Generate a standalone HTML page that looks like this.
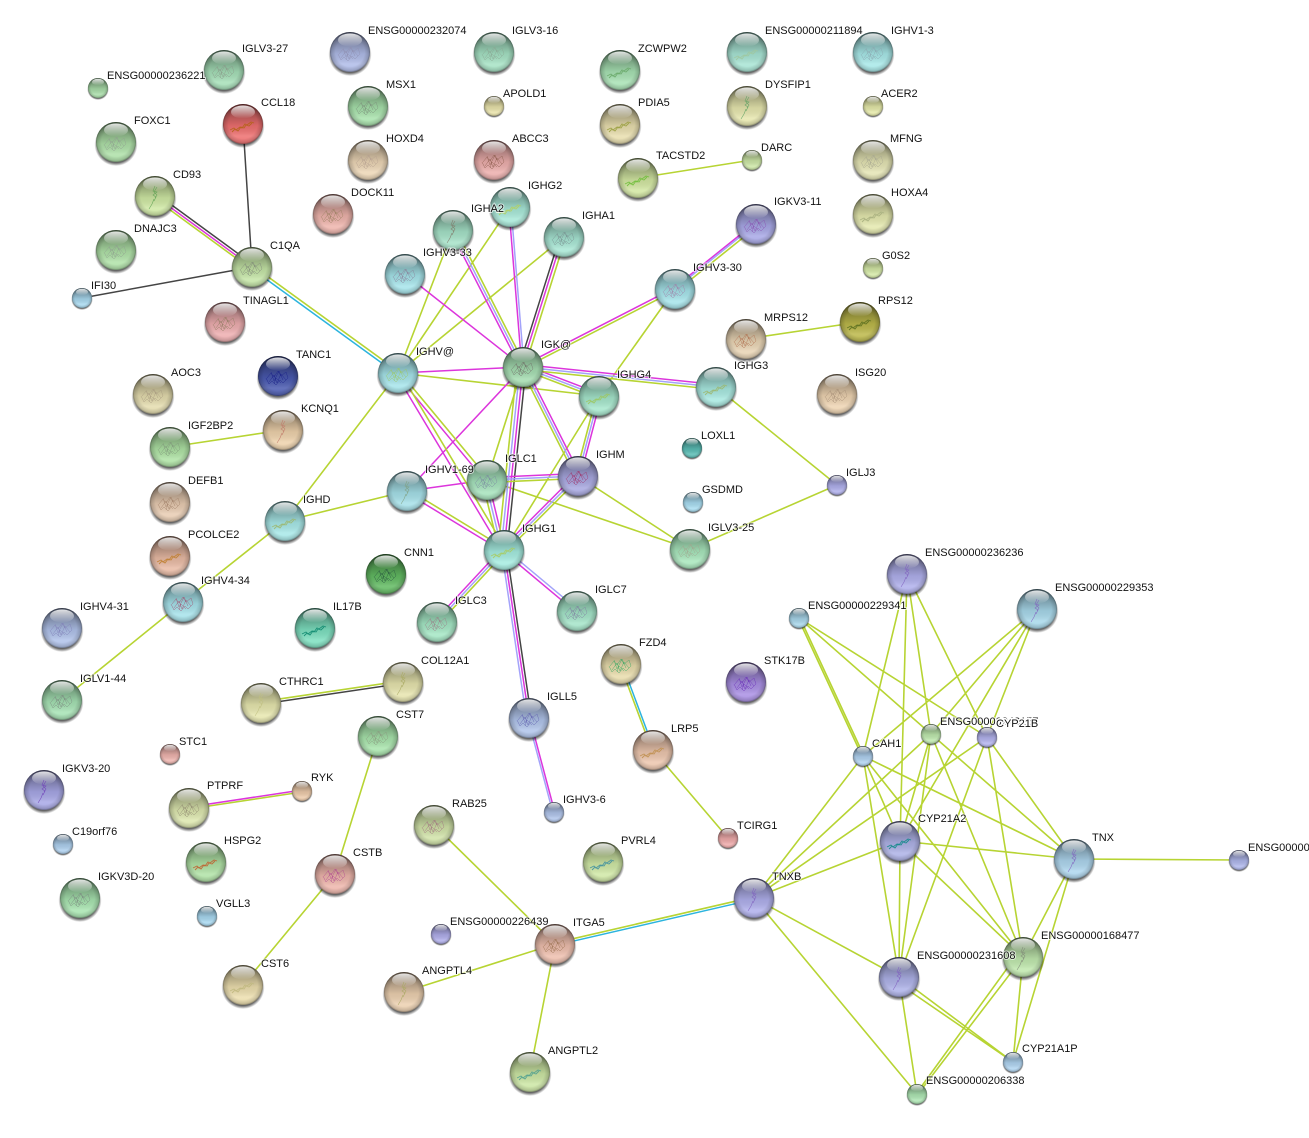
<!DOCTYPE html>
<html lang="en"><head><meta charset="utf-8"><title>Network</title>
<style>
html,body{margin:0;padding:0;background:#fff;width:1309px;height:1138px;overflow:hidden}
svg{display:block}
text{font:11px "Liberation Sans",Arial,sans-serif;fill:#111;stroke:rgba(255,255,255,.65);stroke-width:2px;paint-order:stroke}
text.t{stroke:#fff;stroke-width:3px}
path{fill:none}
.g{stroke:#b7d433;stroke-width:1.6}.m{stroke:#dc35dc;stroke-width:1.5}.l{stroke:#a3a3fa;stroke-width:1.5}.k{stroke:#444;stroke-width:1.5}.c{stroke:#2cb4de;stroke-width:1.5}
</style></head><body>
<svg width="1309" height="1138" viewBox="0 0 1309 1138" xmlns="http://www.w3.org/2000/svg">
<defs>
<radialGradient id="sh" cx=".5" cy=".5" r=".5"><stop offset=".85" stop-color="#000" stop-opacity=".6"/><stop offset="1" stop-color="#000" stop-opacity="0"/></radialGradient>
<linearGradient id="ov1" x1="0" y1="0" x2="0" y2="1"><stop offset="0" stop-color="#000" stop-opacity=".55"/><stop offset=".22" stop-color="#000" stop-opacity=".32"/><stop offset=".55" stop-color="#000" stop-opacity=".08"/><stop offset=".8" stop-color="#fff" stop-opacity=".15"/><stop offset="1" stop-color="#fff" stop-opacity=".05"/></linearGradient>
<radialGradient id="ov" cx=".5" cy=".5" r=".5"><stop offset=".72" stop-color="#000" stop-opacity="0"/><stop offset=".93" stop-color="#000" stop-opacity=".16"/><stop offset="1" stop-color="#000" stop-opacity=".42"/></radialGradient>
<linearGradient id="hi" x1="0" y1="0" x2="0" y2="1"><stop offset="0" stop-color="#fff" stop-opacity=".85"/><stop offset="1" stop-color="#fff" stop-opacity="0"/></linearGradient>
<g id="b"><circle cx="0" cy="2.5" r="21.5" fill="url(#sh)"/><circle r="20"/><circle r="20" fill="url(#ov1)"/><circle r="20" fill="url(#ov)"/><ellipse cy="-12" rx="12" ry="6.5" fill="url(#hi)"/></g>
<g id="s"><use href="#b" transform="scale(.5)"/></g>
<g id="a"><use href="#b"/><path stroke="currentColor" stroke-width=".5" opacity=".8" d="M-11 2l4-5 3 4 4-6 3 5 5-4 2 6-5 5-3-3-4 5-4-4-3 3-3-6M-7 -4l3 9 5-10 4 9M-4 8l2-6 5 5M-9 6l5-7 3 8 4-9 5 6"/></g>
<g id="c"><use href="#b"/><path stroke="currentColor" stroke-width=".6" opacity=".85" d="M0 -10l-2 5 4 1-4 3 3 2-2 4M2 -9l-3 5 3 3-2 3M-1 3l-2 5-3 5"/></g>
<g id="e"><use href="#b"/><path stroke="currentColor" stroke-width=".9" opacity=".9" d="M-13 6l4-2 2 2 4-3 2 1 3-4 2 1 4-3 3 1M-11 8l3-3 3 2 3-4 3 1 2-3 3 1 3-3"/></g>
</defs>
<rect width="1309" height="1138" fill="#fff"/>

<!-- single green edges -->
<path class="g" d="M638 178L752 160M170 447L283 430M746 339L860 322M716 387L837 485M837 485L690 549M285 521L407 491M285 521L398 373M285 521L183 602M183 602L62 700M378 736L335 874M335 874L243 985M653 750L728 838M434 825L555 944M555 944L404 992M555 944L530 1072M1074 859L1239 860
M453 230L398 373M510 207L398 373M564 237L398 373M675 289L599 396M398 373L599 396M599 396L504 550M578 476L690 549M487 480L690 549
M907 574L863 756M907 574L900 841M907 574L931 734M907 574L987 737M1037 609L863 756M1037 609L931 734M1037 609L900 841M1037 609L987 737M799 618L931 734M799 618L987 737M798 618L862 756M800 618L864 756
M863 756L754 898M863 756L900 841M863 756L899 977M863 756L1023 957M863 756L1074 859M931 734L754 898M931 734L900 841M931 734L899 977M931 734L1023 957M931 734L1074 859M987 737L754 898M987 737L899 977M987 737L1023 957M987 737L1074 859M900 841L754 898M900 841L1074 859M900 841L899 977M900 841L1023 957M1074 859L1023 957M1074 859L1013 1062M754 898L899 977M754 898L917 1094M1023 957L1013 1062M1023 957L918 1094M1019 952L916 1094M899 977L1013 1062M895 981L1013 1062M899 977L917 1094
M487 480L523 367"/>

<!-- black singles -->
<path class="k" d="M243 124L252 267M82 298L252 267"/>
<path class="m" d="M405 274L523 367M398 373L523 367M523 367L407 491M407 491L487 480"/>

<!-- multi edges -->
<path class="k" d="M156.5 193.9L253.5 264.9M403 683.3L261 704.3M531.5 718L506.5 550M559.5 238.2L518.5 368.2M526 367L507 550"/>
<path class="m" d="M155 196L252 267M302 790L189 807M529 718L504 550M555 813L530 719M756 222L675 287M674.4 287.8L522.4 365.8M450.7 231.1L520.7 368.1M508.8 207L521.8 367M562.5 237.5L521.5 367.5M523 364.5L716 384.5M523.9 364.7L599.9 393.7M523 367L504 550M525.2 365.9L580.2 474.9M396 374.2L502 551.2M396.5 374.2L485.5 481.2M406 492.5L503 551.5M487 477.5L578 473.5M488 480L505 550M576.2 474.2L502.2 548.2M601.5 396L580.5 476M502.2 548.3L435.2 620.3M503 551.2L576 612.2"/>
<path class="l" d="M756 224L675 289M453 230L523 367M511 207L524 367M523 367L716 387M523 367L599 396M520 367L501 550M523 367L578 476M487 480L578 476M485 480L502 550M578 476L504 550M599 396L578 476M504 550L437 622M505 548.8L578 609.8M526.5 718L501.5 550M552.8 812.2L527.8 718.2"/>
<path class="g" d="M757.6 226L676.6 291M675.6 290.2L523.6 368.2M455.3 228.9L525.3 365.9M566 236.5L525 366.5M523 369.5L716 389.5M522.1 369.3L598.1 398.3M517 367L498 550M520.8 368.1L575.8 477.1M399.7 371.8L505.7 548.8M399.5 371.8L488.5 478.8M408 489.5L505 548.5M487 482.5L578 478.5M482 480L499 550M579.8 477.8L505.8 551.8M596.5 396L575.5 476M505.8 551.7L438.8 623.7M154 198.1L251 269.1M398.9 371.8L252.9 265.8M403 680.7L261 701.7M302 792L189 809M620 664.4L652 750.4M555.3 942.8L754.3 896.8"/>
<path class="c" d="M397.1 374.2L251.1 268.2M622 663.6L654 749.6M555.7 945.2L754.7 899.2"/>

<!-- nodes -->
<g>
<use href="#s" x="98" y="88" fill="#a8dca8"/>
<use href="#a" x="224" y="70" fill="#a6dfb8" color="#8a9a8a"/>
<use href="#a" x="350" y="52" fill="#b0bce8" color="#8f8fb0"/>
<use href="#a" x="494" y="52" fill="#a6e2c4" color="#8aa894"/>
<use href="#e" x="620" y="70" fill="#a8e2b4" color="#6aaa6a"/>
<use href="#e" x="747" y="52" fill="#a8e4d4" color="#a0c8a0"/>
<use href="#a" x="873" y="52" fill="#a8e8e8" color="#8aa8b0"/>
<use href="#a" x="116" y="142" fill="#aee0a8" color="#90a090"/>
<use href="#e" x="243" y="124" fill="#ee7070" color="#b5631a"/>
<use href="#a" x="368" y="106" fill="#a8e2ac" color="#7a8f7a"/>
<use href="#s" x="494" y="106" fill="#e8e2aa"/>
<use href="#e" x="620" y="124" fill="#e8deae" color="#9aa040"/>
<use href="#c" x="747" y="106" fill="#e6e6ae" color="#5ba060"/>
<use href="#s" x="873" y="106" fill="#e4e8a8"/>
<use href="#a" x="368" y="160" fill="#ecd6b6" color="#b5a090"/>
<use href="#a" x="494" y="160" fill="#ecaeac" color="#8a5a4a"/>
<use href="#e" x="638" y="178" fill="#d2e6a2" color="#6fbf3a"/>
<use href="#s" x="752" y="160" fill="#cce6a6"/>
<use href="#a" x="873" y="160" fill="#e4e4b4" color="#a8a890"/>
<use href="#c" x="155" y="196" fill="#cfe8a4" color="#5aa050"/>
<use href="#a" x="333" y="214" fill="#eeb4ac" color="#9a8060"/>
<use href="#e" x="510" y="207" fill="#a8e8d8" color="#b4d060"/>
<use href="#c" x="453" y="230" fill="#a6e2c8" color="#807868"/>
<use href="#a" x="564" y="237" fill="#a8e6d4" color="#789090"/>
<use href="#a" x="756" y="224" fill="#a8a8e6" color="#8850b0"/>
<use href="#e" x="873" y="214" fill="#e4e8ae" color="#a8b080"/>
<use href="#a" x="116" y="250" fill="#b0e2a8" color="#90a090"/>
<use href="#a" x="252" y="267" fill="#c4e4a6" color="#808878"/>
<use href="#s" x="873" y="268" fill="#d4e8a6"/>
<use href="#a" x="405" y="274" fill="#a6e4ea" color="#887f98"/>
<use href="#a" x="675" y="289" fill="#a6e4ea" color="#a080a8"/>
<use href="#s" x="82" y="298" fill="#a8d8ee"/>
<use href="#a" x="225" y="322" fill="#eeaeb0" color="#907a60"/>
<use href="#e" x="860" y="322" fill="#bcb84a" color="#5c7020"/>
<use href="#a" x="746" y="339" fill="#e8d4b4" color="#b07050"/>
<use href="#a" x="523" y="367" fill="#a4dcb0" color="#706e68"/>
<use href="#a" x="398" y="373" fill="#a6e4ea" color="#9cc860"/>
<use href="#a" x="278" y="376" fill="#4a5ab0" color="#1a2088"/>
<use href="#a" x="153" y="394" fill="#e4dcae" color="#a89a80"/>
<use href="#e" x="599" y="396" fill="#a6e6cc" color="#9cc860"/>
<use href="#e" x="716" y="387" fill="#a8e8e0" color="#9cb870"/>
<use href="#a" x="837" y="394" fill="#eed4b2" color="#a89078"/>
<use href="#c" x="283" y="430" fill="#eed2ac" color="#c07868"/>
<use href="#a" x="170" y="447" fill="#aee2a4" color="#80987a"/>
<use href="#s" x="692" y="448" fill="#5abcb4"/>
<use href="#a" x="487" y="480" fill="#a6e2bc" color="#7a8aa0"/>
<use href="#a" x="578" y="476" fill="#a8a8e0" color="#a03068"/>
<use href="#c" x="407" y="491" fill="#a6e0e8" color="#80a080"/>
<use href="#s" x="837" y="485" fill="#b0b0ec"/>
<use href="#a" x="170" y="502" fill="#e8ccb2" color="#a08068"/>
<use href="#s" x="693" y="502" fill="#a8dcf0"/>
<use href="#e" x="285" y="521" fill="#a8e8e8" color="#9cb870"/>
<use href="#e" x="504" y="550" fill="#a6ece0" color="#a8cc60"/>
<use href="#a" x="690" y="549" fill="#a8e6bc" color="#a0a890"/>
<use href="#e" x="170" y="556" fill="#e8baa4" color="#c08030"/>
<use href="#a" x="386" y="574" fill="#62ba62" color="#2a5a40"/>
<use href="#c" x="907" y="574" fill="#b0b0ec" color="#8060c0"/>
<use href="#a" x="183" y="602" fill="#a6e2ea" color="#a05070"/>
<use href="#c" x="1037" y="609" fill="#a8d8ea" color="#8060c0"/>
<use href="#s" x="799" y="618" fill="#a8d6ea"/>
<use href="#e" x="315" y="628" fill="#7ee0c0" color="#108a70"/>
<use href="#a" x="437" y="622" fill="#a4e6c4" color="#9a7f88"/>
<use href="#a" x="577" y="611" fill="#a4e4c8" color="#7f80a0"/>
<use href="#a" x="62" y="628" fill="#b0c2ea" color="#7f80b8"/>
<use href="#a" x="621" y="664" fill="#e8dcac" color="#30a860"/>
<use href="#a" x="746" y="682" fill="#aa90e4" color="#6a30b8"/>
<use href="#c" x="403" y="682" fill="#e6e4ae" color="#a8a860"/>
<use href="#c" x="261" y="703" fill="#e6e6ae" color="#c0c080"/>
<use href="#a" x="62" y="700" fill="#a6e2b4" color="#7a8a80"/>
<use href="#a" x="529" y="718" fill="#b0c4ea" color="#6060b0"/>
<use href="#e" x="653" y="750" fill="#ecc6ae" color="#c09050"/>
<use href="#a" x="378" y="736" fill="#a8e4ac" color="#8a9a80"/>
<use href="#s" x="931" y="734" fill="#bee8ae"/>
<use href="#s" x="987" y="737" fill="#b4b4ee"/>
<use href="#s" x="863" y="756" fill="#b0d2f0"/>
<use href="#s" x="170" y="754" fill="#eeb4ae"/>
<use href="#c" x="44" y="790" fill="#a8a8e6" color="#7040b8"/>
<use href="#s" x="302" y="791" fill="#eccaaa"/>
<use href="#a" x="189" y="808" fill="#dce6ae" color="#908a70"/>
<use href="#s" x="554" y="812" fill="#b0c4ea"/>
<use href="#s" x="728" y="838" fill="#eeaaaa"/>
<use href="#e" x="900" y="841" fill="#aeb2e6" color="#108a8a"/>
<use href="#a" x="434" y="825" fill="#d0e2a8" color="#a07080"/>
<use href="#s" x="63" y="844" fill="#aed0ee"/>
<use href="#e" x="206" y="862" fill="#b0e2a6" color="#c06030"/>
<use href="#e" x="603" y="862" fill="#d0e8a6" color="#4090a0"/>
<use href="#c" x="1074" y="859" fill="#aed6ee" color="#8060c0"/>
<use href="#s" x="1239" y="860" fill="#b0b8ec"/>
<use href="#a" x="335" y="874" fill="#eeb6ac" color="#b04890"/>
<use href="#a" x="80" y="898" fill="#a8e4b0" color="#7a8a80"/>
<use href="#s" x="207" y="916" fill="#a8d8f0"/>
<use href="#c" x="754" y="898" fill="#b0b0ec" color="#8060c0"/>
<use href="#s" x="441" y="934" fill="#b0aeea"/>
<use href="#a" x="555" y="944" fill="#eebfae" color="#9a7050"/>
<use href="#c" x="1023" y="957" fill="#c0e8ae" color="#808878"/>
<use href="#c" x="899" y="977" fill="#aeb2e8" color="#8060c0"/>
<use href="#c" x="404" y="992" fill="#ecd0b0" color="#a8a860"/>
<use href="#e" x="243" y="985" fill="#ecdeae" color="#c0b880"/>
<use href="#e" x="530" y="1072" fill="#cce6a4" color="#50a090"/>
<use href="#s" x="1013" y="1062" fill="#b0d4f0"/>
<use href="#s" x="917" y="1094" fill="#aee6b4"/>
</g>

<!-- labels -->
<g>
<text x="107" y="79">ENSG00000236221</text>
<text x="242" y="52">IGLV3-27</text>
<text x="368" y="34">ENSG00000232074</text>
<text x="512" y="34">IGLV3-16</text>
<text x="638" y="52">ZCWPW2</text>
<text x="765" y="34">ENSG00000211894</text>
<text x="891" y="34">IGHV1-3</text>
<text x="134" y="124">FOXC1</text>
<text x="261" y="106">CCL18</text>
<text x="386" y="88">MSX1</text>
<text x="503" y="97">APOLD1</text>
<text x="638" y="106">PDIA5</text>
<text x="765" y="88">DYSFIP1</text>
<text x="881" y="97">ACER2</text>
<text x="386" y="142">HOXD4</text>
<text x="512" y="142">ABCC3</text>
<text x="656" y="159">TACSTD2</text>
<text x="761" y="151">DARC</text>
<text x="890" y="142">MFNG</text>
<text x="173" y="178">CD93</text>
<text x="351" y="196">DOCK11</text>
<text x="528" y="189">IGHG2</text>
<text x="471" y="212">IGHA2</text>
<text x="582" y="219">IGHA1</text>
<text x="774" y="205">IGKV3-11</text>
<text x="891" y="196">HOXA4</text>
<text x="134" y="232">DNAJC3</text>
<text x="270" y="249">C1QA</text>
<text x="882" y="259">G0S2</text>
<text x="423" y="256">IGHV3-33</text>
<text x="693" y="271">IGHV3-30</text>
<text x="91" y="289">IFI30</text>
<text x="243" y="304">TINAGL1</text>
<text x="878" y="304">RPS12</text>
<text x="764" y="321">MRPS12</text>
<text x="541" y="348">IGK@</text>
<text x="416" y="355">IGHV@</text>
<text x="296" y="358">TANC1</text>
<text x="171" y="376">AOC3</text>
<text x="617" y="378">IGHG4</text>
<text x="734" y="369">IGHG3</text>
<text x="855" y="376">ISG20</text>
<text x="301" y="412">KCNQ1</text>
<text x="188" y="429">IGF2BP2</text>
<text x="701" y="439">LOXL1</text>
<text x="505" y="462">IGLC1</text>
<text x="596" y="458">IGHM</text>
<text x="425" y="473">IGHV1-69</text>
<text x="846" y="476">IGLJ3</text>
<text x="188" y="484">DEFB1</text>
<text x="702" y="493">GSDMD</text>
<text x="303" y="503">IGHD</text>
<text x="522" y="532">IGHG1</text>
<text x="708" y="531">IGLV3-25</text>
<text x="188" y="538">PCOLCE2</text>
<text x="404" y="556">CNN1</text>
<text x="925" y="556">ENSG00000236236</text>
<text x="201" y="584">IGHV4-34</text>
<text x="1055" y="591">ENSG00000229353</text>
<text x="808" y="609">ENSG00000229341</text>
<text x="333" y="610">IL17B</text>
<text x="455" y="604">IGLC3</text>
<text x="595" y="593">IGLC7</text>
<text x="80" y="610">IGHV4-31</text>
<text x="639" y="646">FZD4</text>
<text x="764" y="664">STK17B</text>
<text x="421" y="664">COL12A1</text>
<text x="279" y="685">CTHRC1</text>
<text x="80" y="682">IGLV1-44</text>
<text x="547" y="700">IGLL5</text>
<text x="671" y="732">LRP5</text>
<text x="396" y="718">CST7</text>
<text x="940" y="725">ENSG00000248157</text>
<text class="t" x="996" y="727">CYP21B</text>
<text x="872" y="747">CAH1</text>
<text x="179" y="745">STC1</text>
<text x="62" y="772">IGKV3-20</text>
<text x="311" y="781">RYK</text>
<text x="207" y="789">PTPRF</text>
<text x="563" y="803">IGHV3-6</text>
<text x="737" y="829">TCIRG1</text>
<text x="918" y="822">CYP21A2</text>
<text x="452" y="807">RAB25</text>
<text x="72" y="835">C19orf76</text>
<text x="224" y="844">HSPG2</text>
<text x="621" y="844">PVRL4</text>
<text x="1092" y="841">TNX</text>
<text x="1248" y="851">ENSG00000206340</text>
<text x="353" y="856">CSTB</text>
<text x="98" y="880">IGKV3D-20</text>
<text x="216" y="907">VGLL3</text>
<text x="772" y="880">TNXB</text>
<text x="450" y="925">ENSG00000226439</text>
<text x="573" y="926">ITGA5</text>
<text x="1041" y="939">ENSG00000168477</text>
<text x="917" y="959">ENSG00000231608</text>
<text x="422" y="974">ANGPTL4</text>
<text x="261" y="967">CST6</text>
<text x="548" y="1054">ANGPTL2</text>
<text x="1022" y="1052">CYP21A1P</text>
<text x="926" y="1084">ENSG00000206338</text>
</g>
</svg>
</body></html>
